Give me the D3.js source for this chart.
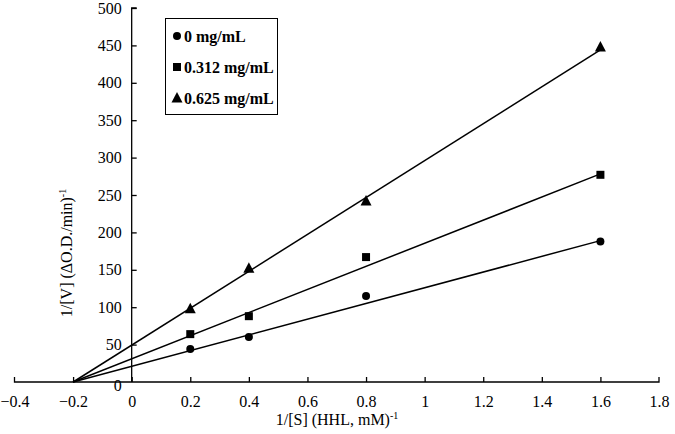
<!DOCTYPE html>
<html><head><meta charset="utf-8">
<script src="https://cdn.jsdelivr.net/npm/d3@7"></script>
<style>body{margin:0;background:#fff}svg text{font-family:"Liberation Serif","Times New Roman",serif !important;fill:#000}</style>
</head><body>
<svg id="c" width="675" height="434"></svg>
<script>
const xValues = [0.2, 0.4, 0.8, 1.6];
const seriesNames = ["0 mg/mL", "0.312 mg/mL", "0.625 mg/mL"];
const seriesValues = [
  [44, 60, 115, 188],
  [64, 88, 167, 277],
  [98, 152, 242, 448]
];
const trendSlopes = [105, 154.5, 246.7];
const trendIntercepts = [21, 31, 49.3];
const xTicks = [-0.4, -0.2, 0, 0.2, 0.4, 0.6, 0.8, 1, 1.2, 1.4, 1.6, 1.8];
const yTicks = [0, 50, 100, 150, 200, 250, 300, 350, 400, 450, 500];
const markerTypes = ["circle", "square", "triangle"];

const svg = d3.select("#c");
const x = d3.scaleLinear().domain([-0.4, 1.8]).range([14.5, 659]);
const y = d3.scaleLinear().domain([0, 500]).range([382, 8]);
const FS = 16;
const FF = "Liberation Serif, Times New Roman, serif";

// x axis
const xAxis = d3.axisBottom(x).tickValues(xTicks).tickSize(-5).tickPadding(14)
  .tickFormat(d => d3.format("")(+d.toFixed(1)));
const gx = svg.append("g").attr("transform", `translate(0,${y(0)})`).call(xAxis).attr("font-family", FF);
gx.select(".domain").attr("d", `M${x(-0.4)},-5V0H${x(1.8)}V-5`).attr("stroke", "#000").attr("stroke-width", 1.3);
gx.selectAll(".tick line").attr("stroke", "#000").attr("stroke-width", 1.3);
gx.selectAll(".tick text").attr("font-size", FS).attr("font-family", FF);
gx.selectAll(".tick").filter(d => d === -0.4 || d === 1.8).select("line").remove();

// y axis
const yAxis = d3.axisLeft(y).tickValues(yTicks).tickSize(-5).tickPadding(10);
const gy = svg.append("g").attr("transform", `translate(${x(0)},0)`).call(yAxis).attr("font-family", FF);
gy.select(".domain").attr("d", `M5,${y(500)}H0V${y(0)}`).attr("stroke", "#000").attr("stroke-width", 1.3);
gy.selectAll(".tick line").attr("stroke", "#000").attr("stroke-width", 1.3);
gy.selectAll(".tick").filter(d => d === 0).select("line").remove();
gy.selectAll(".tick text").attr("font-size", FS).attr("font-family", FF);
gy.selectAll(".tick").filter(d => d === 0).select("text").attr("dy", "0.5em");

// trend lines
seriesValues.forEach((vals, i) => {
  const x0 = -trendIntercepts[i] / trendSlopes[i];
  const x1 = xValues[xValues.length - 1];
  svg.append("line")
    .attr("x1", x(x0)).attr("y1", y(0))
    .attr("x2", x(x1)).attr("y2", y(trendIntercepts[i] + trendSlopes[i] * x1))
    .attr("stroke", "#000").attr("stroke-width", 1.5);
});

function marker(g, type, cx, cy) {
  if (type === "circle") g.append("circle").attr("cx", cx).attr("cy", cy).attr("r", 4).attr("fill", "#000");
  else if (type === "square") g.append("rect").attr("x", cx - 4).attr("y", cy - 4).attr("width", 8).attr("height", 8).attr("fill", "#000");
  else g.append("path").attr("d", `M${cx},${cy - 6}L${cx + 5.5},${cy + 4.5}L${cx - 5.5},${cy + 4.5}Z`).attr("fill", "#000");
}

seriesValues.forEach((vals, i) => {
  const g = svg.append("g");
  vals.forEach((v, j) => marker(g, markerTypes[i], x(xValues[j]), y(v)));
});

// legend
const lg = svg.append("g");
lg.append("rect").attr("x", 165.5).attr("y", 18.5).attr("width", 112).attr("height", 96)
  .attr("fill", "#fff").attr("stroke", "#000").attr("stroke-width", 1);
seriesNames.forEach((n, i) => {
  const cy = 36 + i * 31;
  marker(lg, markerTypes[i], 177, cy);
  lg.append("text").attr("x", 184).attr("y", cy).attr("dy", "0.35em")
    .attr("font-size", FS).attr("font-weight", "bold").text(n);
});

// axis titles
const xt = svg.append("text").attr("x", 337).attr("y", 425).attr("text-anchor", "middle").attr("font-size", FS);
xt.append("tspan").text("1/[S] (HHL, mM)");
xt.append("tspan").attr("font-size", 10).attr("dy", -6).text("-1");

const yt = svg.append("text").attr("transform", "translate(72,253) rotate(-90)").attr("text-anchor", "middle").attr("font-size", FS);
yt.append("tspan").text("1/[V] (ΔO.D./min)");
yt.append("tspan").attr("font-size", 10).attr("dy", -6).text("-1");
</script>
</body></html>
